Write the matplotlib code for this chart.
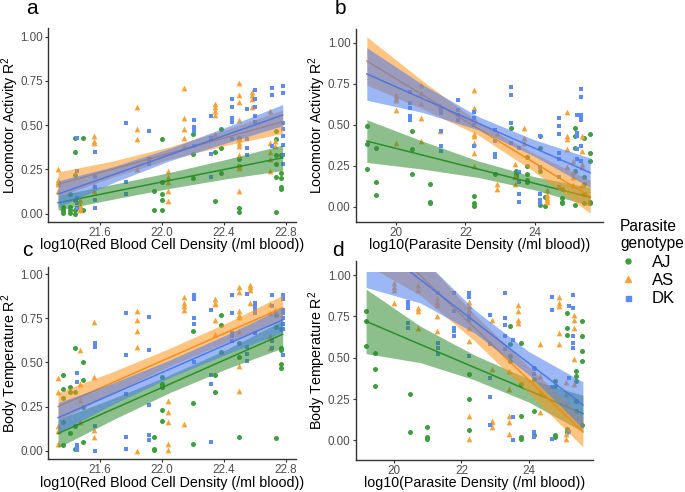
import numpy as np
import matplotlib
matplotlib.use('Agg')
import matplotlib.pyplot as plt
from matplotlib.lines import Line2D
from matplotlib.patches import Rectangle

plt.rcParams['font.family'] = ['Liberation Sans', 'DejaVu Sans']
plt.rcParams['mathtext.fontset'] = 'custom'
plt.rcParams['mathtext.rm'] = 'Liberation Sans'

# genotype styling
genotypes = ['AJ', 'AS', 'DK']
point_colors = {'AJ': '#3f9f3f', 'AS': '#f8a236', 'DK': '#5c8cf2'}
fill_colors = {'AJ': '#2e8b2e', 'AS': '#ff951a', 'DK': '#4a7cf0'}
line_colors = {'AJ': '#1f8a1f', 'AS': '#f28a10', 'DK': '#4a72e0'}
markers = {'AJ': 'o', 'AS': '^', 'DK': 's'}
marker_sizes = {'AJ': 13, 'AS': 17, 'DK': 12}

# ---- panel a: RBC density vs locomotor activity R2 (x value, [y values]) ----
a_aj = [(21.36, [0.04, 0.02, 0.015, 0.005]), (21.41, [0.11, 0.04, 0.02, 0.005]),
        (21.44, [0.43, 0.35, 0.22, 0.08, 0.02, 0.0]), (21.49, [0.43, 0.02]),
        (21.95, [0.13, 0.02]), (22.00, [0.42, 0.18, 0.11, 0.08, 0.02]),
        (22.20, [0.45, 0.34, 0.20]), (22.34, [0.35, 0.07]), (22.38, [0.48, 0.37, 0.23]),
        (22.50, [0.43, 0.31, 0.27, 0.03, 0.01]), (22.74, [0.47, 0.42, 0.33, 0.28, 0.21, 0.01]),
        (22.77, [0.33, 0.23, 0.20, 0.15, 0.14])]
a_as = [(21.33, [0.25, 0.19, 0.18, 0.17, 0.13]), (21.47, [0.08, 0.05, 0.03, 0.02]),
        (21.56, [0.44, 0.41, 0.40, 0.16, 0.13]), (21.84, [0.60, 0.48, 0.42, 0.25]),
        (22.04, [0.24, 0.21, 0.18, 0.13, 0.07]), (22.14, [0.71, 0.54, 0.48, 0.43, 0.38]),
        (22.34, [0.62, 0.60, 0.58, 0.56, 0.45]),
        (22.50, [0.74, 0.67, 0.63, 0.53, 0.42, 0.40, 0.38, 0.33, 0.27, 0.26, 0.13]),
        (22.58, [0.69, 0.67, 0.65, 0.60]), (22.70, [0.58, 0.40, 0.35, 0.31, 0.24]),
        (22.73, [0.41, 0.38])]
a_dk = [(21.45, [0.43, 0.24, 0.09, 0.06, 0.03]), (21.57, [0.35, 0.21, 0.15, 0.08, 0.03]),
        (21.77, [0.51, 0.18, 0.11]), (21.92, [0.47, 0.31, 0.28]),
        (22.21, [0.53, 0.49, 0.47, 0.38]), (22.32, [0.55, 0.43, 0.42, 0.34, 0.21]),
        (22.45, [0.65, 0.60, 0.54, 0.52, 0.42]), (22.55, [0.59, 0.42, 0.37, 0.33]),
        (22.60, [0.70, 0.65, 0.60, 0.55, 0.52]), (22.71, [0.71, 0.67, 0.38]),
        (22.78, [0.72, 0.68, 0.51, 0.48, 0.44, 0.39, 0.33, 0.28])]
a_band_x = [21.33, 21.69, 22.05, 22.42, 22.78]
a_aj_line = [0.062, 0.316]
a_aj_lo = [0.020, 0.083, 0.143, 0.198, 0.244]
a_aj_hi = [0.104, 0.167, 0.233, 0.308, 0.388]
a_as_line = [0.166, 0.520]
a_as_lo = [0.096, 0.209, 0.308, 0.387, 0.454]
a_as_hi = [0.236, 0.299, 0.378, 0.477, 0.586]
a_dk_line = [0.111, 0.557]
a_dk_lo = [0.036, 0.177, 0.299, 0.401, 0.497]
a_dk_hi = [0.186, 0.267, 0.369, 0.491, 0.617]

# ---- panel b: parasite density vs locomotor activity R2 ----
b_aj = [(19.16, [0.49, 0.38, 0.23]), (19.43, [0.36, 0.15, 0.07]), (20.46, [0.46, 0.35, 0.20]),
        (20.97, [0.14, 0.03, 0.02]), (22.24, [0.065, 0.02, 0.006]), (22.85, [0.20]),
        (23.30, [0.48]), (23.45, [0.22, 0.20, 0.19]), (23.78, [0.30, 0.25, 0.20, 0.16, 0.15]),
        (24.16, [0.43, 0.36, 0.22, 0.01]), (24.30, [0.06, 0.006]),
        (24.78, [0.11, 0.05, 0.03, 0.02]), (25.14, [0.48, 0.43, 0.36, 0.22, 0.01]),
        (25.40, [0.42, 0.18, 0.14, 0.08, 0.02]), (25.59, [0.44, 0.33, 0.28, 0.03, 0.02])]
b_as = [(20.00, [0.68, 0.66, 0.65, 0.59, 0.39]), (20.71, [0.74, 0.69, 0.63, 0.54, 0.40]),
        (21.26, [0.62, 0.61, 0.46]), (22.24, [0.71, 0.60, 0.54, 0.44, 0.43, 0.39, 0.33, 0.25]),
        (22.92, [0.45, 0.14, 0.11]), (23.42, [0.26, 0.19, 0.18, 0.14]),
        (23.69, [0.48, 0.42, 0.39]), (24.35, [0.10, 0.07, 0.05, 0.04, 0.03]),
        (24.92, [0.58, 0.43, 0.41, 0.35, 0.24]), (25.11, [0.28, 0.21, 0.18, 0.13]),
        (25.35, [0.43, 0.34, 0.26, 0.24, 0.13])]
b_dk = [(20.40, [0.70, 0.63, 0.60, 0.55, 0.53]), (21.31, [0.59, 0.57, 0.46, 0.37, 0.34]),
        (21.78, [0.65, 0.59, 0.56, 0.53]), (22.24, [0.58, 0.54, 0.50, 0.37]),
        (22.85, [0.47, 0.40, 0.32, 0.30]), (23.30, [0.73, 0.68, 0.51, 0.39]),
        (23.54, [0.36, 0.21, 0.15, 0.08, 0.03]), (24.16, [0.43, 0.24, 0.08, 0.04, 0.02]),
        (24.69, [0.54, 0.49, 0.44, 0.33, 0.29, 0.18, 0.12]),
        (25.21, [0.56, 0.45, 0.43, 0.35, 0.29]),
        (25.33, [0.72, 0.67, 0.56, 0.54, 0.53, 0.37, 0.28])]
b_band_x = [19.16, 20.77, 22.38, 23.98, 25.59]
b_aj_line = [0.400, 0.057]
b_aj_lo = [0.270, 0.229, 0.178, 0.103, 0.005]
b_aj_hi = [0.530, 0.399, 0.278, 0.183, 0.117]
b_as_line = [0.888, 0.061]
b_as_lo = [0.741, 0.596, 0.435, 0.213, -0.040]
b_as_hi = [1.035, 0.766, 0.515, 0.323, 0.162]
b_dk_line = [0.809, 0.207]
b_dk_lo = [0.649, 0.574, 0.468, 0.308, 0.117]
b_dk_hi = [0.969, 0.744, 0.548, 0.408, 0.297]

# ---- panel c: RBC density vs body temperature R2 ----
c_aj = [(21.36, [0.43, 0.35, 0.30, 0.16, 0.03]), (21.41, [0.36, 0.33, 0.10]),
        (21.44, [0.58, 0.33, 0.14, 0.01]), (21.49, [0.50, 0.40, 0.25, 0.05]),
        (21.95, [0.08, 0.01, 0.005]), (22.00, [0.42, 0.38, 0.36, 0.23, 0.17]),
        (22.20, [0.68, 0.27, 0.04]), (22.34, [0.43, 0.33]), (22.38, [0.77, 0.71, 0.56]),
        (22.50, [0.61, 0.53, 0.08]), (22.74, [0.77, 0.70, 0.07]),
        (22.77, [0.69, 0.58, 0.57, 0.49, 0.47])]
c_as = [(21.33, [0.41, 0.33, 0.14, 0.11, 0.04]), (21.47, [0.57, 0.38, 0.29, 0.16]),
        (21.56, [0.73, 0.42, 0.12, 0.08]), (21.84, [0.79, 0.74, 0.68, 0.59, 0.0]),
        (22.04, [0.28, 0.22, 0.16, 0.04, 0.005]), (22.14, [0.87, 0.84, 0.82, 0.80, 0.15]),
        (22.34, [0.86, 0.84, 0.83, 0.74, 0.66]),
        (22.50, [0.93, 0.90, 0.79, 0.77, 0.76, 0.68, 0.48, 0.34]),
        (22.57, [0.94, 0.93, 0.91, 0.84]), (22.70, [0.83, 0.78, 0.65, 0.58]),
        (22.73, [0.80])]
c_dk = [(21.45, [0.44, 0.39, 0.03, 0.01, 0.005]), (21.57, [0.61, 0.59, 0.14, 0.0]),
        (21.77, [0.78, 0.54, 0.32, 0.08, 0.01]), (21.92, [0.76, 0.57, 0.26, 0.09, 0.06]),
        (22.21, [0.88, 0.86, 0.75, 0.72, 0.50]), (22.32, [0.80, 0.43, 0.38, 0.05]),
        (22.45, [0.88, 0.78, 0.67, 0.65, 0.62]), (22.55, [0.89, 0.59, 0.55, 0.51]),
        (22.60, [0.84, 0.82, 0.80, 0.78, 0.67]), (22.71, [0.88, 0.82, 0.62, 0.58]),
        (22.78, [0.88, 0.86, 0.80, 0.78, 0.75, 0.72, 0.69, 0.54])]
c_band_x = [21.33, 21.69, 22.05, 22.42, 22.78]
c_aj_line = [0.098, 0.660]
c_aj_lo = [0.018, 0.178, 0.329, 0.465, 0.582]
c_aj_hi = [0.178, 0.298, 0.429, 0.575, 0.738]
c_as_line = [0.250, 0.810]
c_as_lo = [0.170, 0.330, 0.480, 0.615, 0.738]
c_as_hi = [0.330, 0.450, 0.580, 0.725, 0.882]
c_dk_line = [0.187, 0.741]
c_dk_lo = [0.102, 0.266, 0.414, 0.548, 0.671]
c_dk_hi = [0.272, 0.386, 0.514, 0.658, 0.811]

# ---- panel d: parasite density vs body temperature R2 ----
d_aj = [(19.16, [0.78, 0.72, 0.57]), (19.43, [0.53, 0.43, 0.33]), (20.46, [0.28, 0.05]),
        (20.97, [0.08, 0.02, 0.01]), (22.24, [0.40, 0.25, 0.06]),
        (23.45, [0.69, 0.58, 0.51, 0.48]), (23.78, [0.59, 0.34, 0.15, 0.02, 0.01]),
        (24.16, [0.44, 0.37, 0.18, 0.03]), (24.78, [0.36, 0.33, 0.03, 0.02]),
        (25.14, [0.77, 0.68, 0.64, 0.07, 0.05]), (25.40, [0.42, 0.39, 0.36, 0.24, 0.18]),
        (25.59, [0.72, 0.63, 0.54, 0.48, 0.09])]
d_as = [(20.00, [0.95, 0.93, 0.91, 0.83]), (20.71, [0.94, 0.91, 0.80, 0.78, 0.68]),
        (21.26, [0.86, 0.84, 0.82, 0.75, 0.66]),
        (22.24, [0.84, 0.81, 0.79, 0.68, 0.60, 0.15, 0.006]),
        (22.92, [0.73, 0.43, 0.12, 0.11, 0.08]), (23.42, [0.42, 0.31, 0.15, 0.11, 0.04]),
        (23.69, [0.82, 0.78, 0.73, 0.71]), (24.35, [0.58, 0.39, 0.29, 0.17]),
        (24.92, [0.87, 0.83, 0.81, 0.65, 0.58]), (25.11, [0.35, 0.28, 0.22, 0.04, 0.006]),
        (25.35, [0.76, 0.73, 0.68, 0.49, 0.34])]
d_dk = [(20.40, [0.84, 0.81, 0.80, 0.71, 0.68]), (21.31, [0.89, 0.59, 0.56, 0.52]),
        (21.78, [0.89, 0.78, 0.68, 0.66, 0.63]), (22.24, [0.89, 0.87, 0.75, 0.73, 0.51]),
        (22.85, [0.76, 0.58, 0.38, 0.26, 0.09]), (23.30, [0.89, 0.74, 0.70, 0.63, 0.55]),
        (23.54, [0.61, 0.14, 0.0]), (24.16, [0.44, 0.40, 0.05, 0.02]),
        (24.69, [0.87, 0.79, 0.32, 0.01]), (25.21, [0.81, 0.38, 0.05]),
        (25.33, [0.88, 0.80, 0.63, 0.59, 0.56])]
d_band_x = [19.16, 20.78, 22.39, 24.00, 25.62]
d_aj_line = [0.720, 0.162]
d_aj_lo = [0.525, 0.470, 0.366, 0.232, 0.052]
d_aj_hi = [0.915, 0.690, 0.516, 0.372, 0.272]
d_as_line = [1.313, 0.050]
d_as_lo = [1.063, 0.877, 0.602, 0.287, -0.040]
d_as_hi = [1.563, 1.117, 0.762, 0.447, 0.140]
d_dk_line = [1.225, 0.214]
d_dk_lo = [0.925, 0.831, 0.650, 0.398, 0.074]
d_dk_hi = [1.525, 1.111, 0.790, 0.538, 0.354]
d_ribbon_cap = 1.02

y_ticks = [0.0, 0.25, 0.5, 0.75, 1.0]
y_tick_labels = ['0.00', '0.25', '0.50', '0.75', '1.00']
rbc_ticks = [21.6, 22.0, 22.4, 22.8]
rbc_tick_labels = ['21.6', '22.0', '22.4', '22.8']
par_ticks = [20, 22, 24]
par_tick_labels = ['20', '22', '24']

rbc_label = 'log10(Red Blood Cell Density (/ml blood))'
par_label = 'log10(Parasite Density (/ml blood))'
loco_label = r'Locomotor Activity R$^{\mathregular{2}}$'
temp_label = r'Body Temperature R$^{\mathregular{2}}$'


def expand(groups):
    xs, ys = [], []
    for x, vals in groups:
        xs += [x] * len(vals)
        ys += vals
    return xs, ys


def draw_panel(ax, points, bands, band_x, clip_top=None):
    # points first, then ribbon + fit line per genotype (ggplot layer order)
    for g, pts in zip(genotypes, points):
        xs, ys = expand(pts)
        ax.scatter(xs, ys, s=marker_sizes[g], marker=markers[g],
                   color=point_colors[g], linewidths=0, zorder=2)
    clip = None
    if clip_top is not None:
        clip = Rectangle((band_x[0] - 1, -1), band_x[-1] - band_x[0] + 2, clip_top + 1,
                         transform=ax.transData)
    for g, (line, lo, hi) in zip(genotypes, bands):
        poly = ax.fill_between(band_x, lo, hi, color=fill_colors[g], alpha=0.55,
                               linewidth=0, zorder=3)
        ln, = ax.plot([band_x[0], band_x[-1]], line, color=line_colors[g], lw=1.1,
                      alpha=0.9, zorder=3)
        if clip is not None:
            poly.set_clip_path(clip)
            ln.set_clip_path(clip)


def style(ax, xlim, ylim, xticks, xlabels, xlabel, ylabel):
    ax.set_xlim(*xlim)
    ax.set_ylim(*ylim)
    ax.set_xticks(xticks)
    ax.set_xticklabels(xlabels)
    ax.set_yticks(y_ticks)
    ax.set_yticklabels(y_tick_labels)
    for s in ['top', 'right']:
        ax.spines[s].set_visible(False)
    for s in ['left', 'bottom']:
        ax.spines[s].set_color('#333333')
        ax.spines[s].set_linewidth(1.0)
    ax.tick_params(length=2.5, width=0.8, color='#333333', labelcolor='#4d4d4d',
                   labelsize=8.4, pad=1.2)
    ax.set_xlabel(xlabel, fontsize=10.3, va='center')
    ax.set_ylabel(ylabel, fontsize=10.3, va='center')
    bbox = ax.get_position()
    w_px = bbox.width * W
    h_px = bbox.height * H
    ax.xaxis.set_label_coords(0.5, -23.5 / h_px)
    ax.yaxis.set_label_coords(-38 / w_px, 0.5)


W, H = 685, 492
fig = plt.figure(figsize=(6.85, 4.92), dpi=100)


def add_axes(left, top, right, bottom):
    return fig.add_axes([left / W, 1 - bottom / H, (right - left) / W, (bottom - top) / H])


ax_a = add_axes(48.3, 28, 296, 221.7)
ax_b = add_axes(355.7, 29, 603, 221.7)
ax_c = add_axes(48.3, 266.7, 296, 459)
ax_d = add_axes(355.7, 260.7, 593.3, 460)

draw_panel(ax_a, [a_aj, a_as, a_dk],
           [(a_aj_line, a_aj_lo, a_aj_hi), (a_as_line, a_as_lo, a_as_hi),
            (a_dk_line, a_dk_lo, a_dk_hi)], a_band_x)
draw_panel(ax_b, [b_aj, b_as, b_dk],
           [(b_aj_line, b_aj_lo, b_aj_hi), (b_as_line, b_as_lo, b_as_hi),
            (b_dk_line, b_dk_lo, b_dk_hi)], b_band_x)
draw_panel(ax_c, [c_aj, c_as, c_dk],
           [(c_aj_line, c_aj_lo, c_aj_hi), (c_as_line, c_as_lo, c_as_hi),
            (c_dk_line, c_dk_lo, c_dk_hi)], c_band_x)
draw_panel(ax_d, [d_aj, d_as, d_dk],
           [(d_aj_line, d_aj_lo, d_aj_hi), (d_as_line, d_as_lo, d_as_hi),
            (d_dk_line, d_dk_lo, d_dk_hi)], d_band_x, clip_top=d_ribbon_cap)

style(ax_a, (21.267, 22.866), (-0.045, 1.049), rbc_ticks, rbc_tick_labels, rbc_label, loco_label)
style(ax_b, (18.84, 25.96), (-0.0915, 1.083), par_ticks, par_tick_labels, par_label, loco_label)
style(ax_c, (21.267, 22.866), (-0.047, 1.043), rbc_ticks, rbc_tick_labels, rbc_label, temp_label)
style(ax_d, (18.85, 25.93), (-0.119, 1.087), par_ticks, par_tick_labels, par_label, temp_label)

# panel letters
for letter, (px, py) in zip('abcd', [(32, 9), (340, 9), (27, 251), (338, 251)]):
    fig.text(px / W, 1 - py / H, letter, fontsize=15, ha='center', va='center')

# legend
handles = [Line2D([], [], linestyle='none', marker=markers[g], color=point_colors[g],
                  markersize=3.6 if g != 'AS' else 4.3) for g in genotypes]
leg = fig.legend(handles, genotypes, title='Parasite\ngenotype', loc='upper left',
                 bbox_to_anchor=(620 / W, 1 - 219 / H), frameon=False, fontsize=12,
                 title_fontsize=11.2, alignment='left', handletextpad=0.9,
                 labelspacing=0.2, handlelength=1.0, borderaxespad=0, borderpad=0)

fig.savefig('out.png', dpi=100)
